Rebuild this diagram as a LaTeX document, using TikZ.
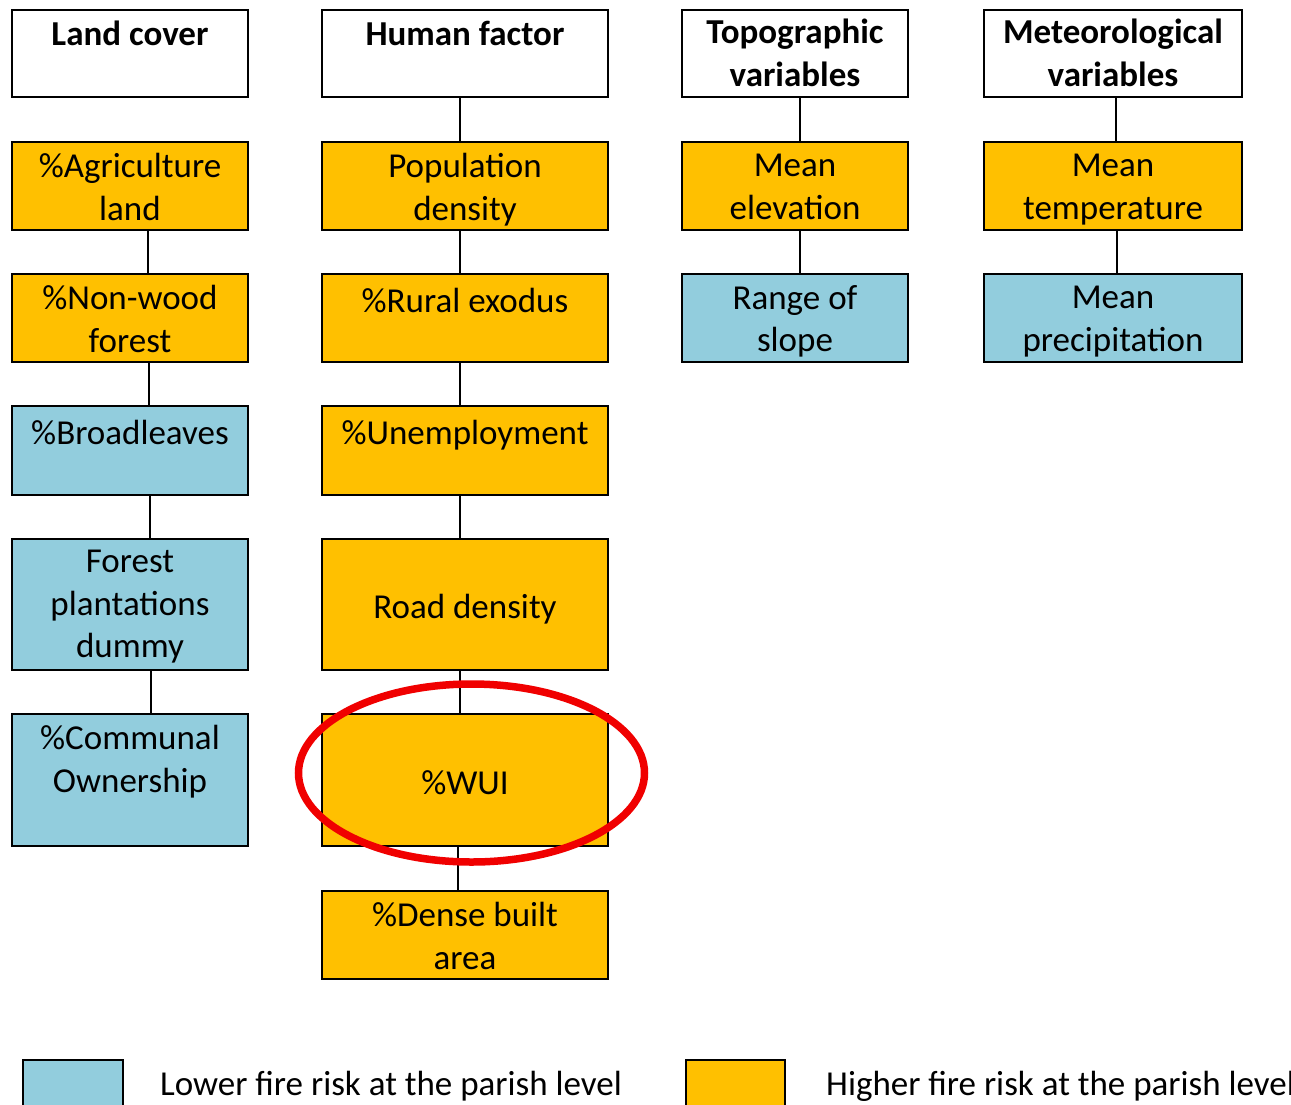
\documentclass[tikz,border=0pt]{standalone}
\usepackage{fontspec}
\setmainfont{Carlito}
\definecolor{hiorange}{RGB}{255,192,0}
\definecolor{loblue}{RGB}{146,205,221}
\definecolor{ringred}{RGB}{240,0,0}
\begin{document}
\begin{tikzpicture}[x=1pt,y=-1pt,
  box/.style={rectangle, draw=black, line width=1.3pt, inner sep=0pt},
  head/.style={box, fill=white},
  hi/.style={box, fill=hiorange},
  lo/.style={box, fill=loblue},
  colA/.style={minimum width=236},
  colB/.style={minimum width=286},
  colC/.style={minimum width=226},
  colD/.style={minimum width=258},
  rowS/.style={minimum height=88},
  rowT/.style={minimum height=131},
  % text placed by the top of its first line: a 28pt strut fixes that top
  txt/.style={align=center, inner sep=0pt, anchor=north, text=black,
              font=\fontsize{35}{42.5}\selectfont,
              execute at begin node={\rule{0pt}{28pt}}},
  htxt/.style={txt, font=\fontsize{35}{43}\selectfont\bfseries},
  conn/.style={draw=black, line width=2.6pt}]

\useasboundingbox (0,0) rectangle (1291,1104);
\fill[white] (0,0) rectangle (1291,1104);

% ---- column headers
\node[head, colA, minimum height=87] (hA) at (130,53.5) {};
\node[head, colB, minimum height=87] (hB) at (465,53.5) {};
\node[head, colC, minimum height=87] (hC) at (795,53.5) {};
\node[head, colD, minimum height=87] (hD) at (1113,53.5) {};
\node[htxt] (hAt) at (130,17) {Land cover};
\node[htxt] (hBt) at (465,17) {Human factor};
\node[htxt] (hCt) at (795,19) {Topographic\\variables};
\node[htxt] (hDt) at (1113,19) {Meteorological\\variables};

% ---- land cover
\node[hi, colA, rowS] (agr) at (130,186) {};
\node[hi, colA, rowS] (nwf) at (130,318) {};
\node[lo, colA, minimum height=89] (brd) at (130,450.5) {};
\node[lo, colA, rowT] (fpd) at (130,604.5) {};
\node[lo, colA, minimum height=132] (com) at (130,780) {};
\node[txt] (agrt) at (130,153) {\%Agriculture\\land};
\node[txt] (nwft) at (130,285) {\%Non-wood\\forest};
\node[txt] (brdt) at (130,416) {\%Broadleaves};
\node[txt] (fpdt) at (130,550) {Forest\\plantations\\dummy};
\node[txt] (comt) at (130,725) {\%Communal\\Ownership};

% ---- human factor
\node[hi, colB, rowS] (pop) at (465,186) {};
\node[hi, colB, rowS] (rur) at (465,318) {};
\node[hi, colB, minimum height=89] (une) at (465,450.5) {};
\node[hi, colB, rowT] (road) at (465,604.5) {};
\node[hi, colB, minimum height=132] (wui) at (465,780) {};
\node[hi, colB, rowS] (dba) at (465,935) {};
\node[txt] (popt) at (465,153) {Population\\density};
\node[txt] (rurt) at (465,284) {\%Rural exodus};
\node[txt] (unet) at (465,416) {\%Unemployment};
\node[txt] (roadt) at (465,590) {Road density};
\node[txt] (wuit) at (465,766) {\%WUI};
\node[txt] (dbat) at (465,902) {\%Dense built\\area};

% ---- topographic variables
\node[hi, colC, rowS] (elev) at (795,186) {};
\node[lo, colC, rowS] (slope) at (795,318) {};
\node[txt] (elevt) at (795,154) {Mean\\elevation};
\node[txt] (slopet) at (795,285) {Range of\\slope};

% ---- meteorological variables
\node[hi, colD, rowS] (temp) at (1113,186) {};
\node[lo, colD, rowS] (prec) at (1113,318) {};
\node[txt] (tempt) at (1113,154) {Mean\\temperature};
\node[txt] (prect) at (1113,286) {Mean\\precipitation};

% ---- connectors
\path[conn] ([xshift=18]agr.south) -- ([xshift=18]nwf.north);
\path[conn] ([xshift=19]nwf.south) -- ([xshift=19]brd.north);
\path[conn] ([xshift=20]brd.south) -- ([xshift=20]fpd.north);
\path[conn] ([xshift=21]fpd.south) -- ([xshift=21]com.north);

\path[conn] ([xshift=-5]hB.south) -- ([xshift=-5]pop.north);
\path[conn] ([xshift=-5]pop.south) -- ([xshift=-5]rur.north);
\path[conn] ([xshift=-5]rur.south) -- ([xshift=-5]une.north);
\path[conn] ([xshift=-5]une.south) -- ([xshift=-5]road.north);
\path[conn] ([xshift=-5]road.south) -- ([xshift=-5]wui.north);
\path[conn] ([xshift=-7]wui.south) -- ([xshift=-7]dba.north);

\path[conn] ([xshift=5]hC.south) -- ([xshift=5]elev.north);
\path[conn] ([xshift=5]elev.south) -- ([xshift=5]slope.north);

\path[conn] ([xshift=3]hD.south) -- ([xshift=3]temp.north);
\path[conn] ([xshift=4]temp.south) -- ([xshift=4]prec.north);

% ---- highlight ring
\draw[ringred, line width=7.5pt] (471.5,773) ellipse [x radius=173, y radius=89];

% ---- legend
\node[lo, minimum width=100, minimum height=70] (legLo) at (73,1095) {};
\node[hi, minimum width=99, minimum height=70] (legHi) at (735.5,1095) {};
\node[txt] (legLot) at (391,1067) {Lower fire risk at the parish level};
\node[txt, anchor=north west] (legHit) at (826,1067) {Higher fire risk at the parish level};
\end{tikzpicture}
\end{document}
